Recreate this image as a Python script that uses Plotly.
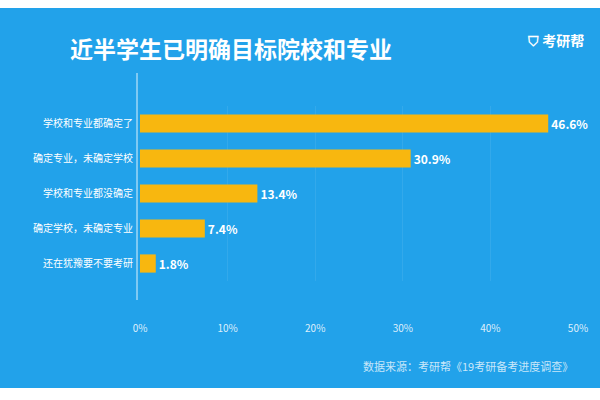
import plotly.graph_objects as go

categories = ["学校和专业都确定了", "确定专业，未确定学校", "学校和专业都没确定", "确定学校，未确定专业", "还在犹豫要不要考研"]
values = [46.6, 30.9, 13.4, 7.4, 1.8]
xticks = [0, 10, 20, 30, 40, 50]
xticklabels = ["0%", "10%", "20%", "30%", "40%", "50%"]

BLUE = "#22A2EA"
BAR = "#F8B70F"
FONT = "Noto Sans CJK SC"

fig = go.Figure(go.Bar(
    y=categories, x=values, orientation="h", marker=dict(color=BAR, line_width=0), width=0.52,
    text=[f"<b>{v}%</b>" for v in values], textposition="outside",
    textfont=dict(color="white", size=12, family=FONT), cliponaxis=False,
))
fig.update_layout(
    width=600, height=400, paper_bgcolor="white", plot_bgcolor=BLUE,
    margin=dict(l=140, r=22, t=106, b=119), showlegend=False,
    font=dict(family=FONT, color="white"),
    shapes=[
        dict(type="rect", xref="paper", yref="paper", x0=-0.4, x1=1.2,
             y0=-(388-281)/175, y1=1+(106-8)/175, fillcolor=BLUE, line_width=0, layer="below"),
        dict(type="line", xref="paper", yref="paper", x0=-3/438, x1=-3/438,
             y0=-(300-281)/175, y1=1+(106-73)/175, line=dict(color="rgba(255,255,255,0.85)", width=1)),
    ],
    annotations=[
        dict(text="<b>近半学生已明确目标院校和专业</b>", xref="paper", yref="paper",
             x=(68-140)/438, y=1+(106-48)/175, xanchor="left", yanchor="middle",
             showarrow=False, font=dict(size=23, color="white", family=FONT)),
        dict(text="<b>⛉ 考研帮</b>", xref="paper", yref="paper", x=1+(8)/438, y=1+(106-40)/175,
             xanchor="right", yanchor="middle", showarrow=False,
             font=dict(size=14, color="white", family=FONT)),
        dict(text="数据来源：考研帮《19考研备考进度调查》", xref="paper", yref="paper",
             x=(575-140)/438, y=-(366-281)/175, xanchor="right", yanchor="middle",
             showarrow=False, font=dict(size=11, color="rgba(255,255,255,0.75)", family=FONT)),
    ],
)
fig.update_xaxes(range=[0, 50], tickvals=xticks, ticktext=xticklabels, showgrid=True,
                 gridcolor="rgba(255,255,255,0.08)", zeroline=False, ticks="",
                 tickfont=dict(size=10, color="rgba(255,255,255,0.85)"), ticklabelstandoff=40)
fig.update_yaxes(autorange="reversed", showgrid=False, ticks="",
                 tickfont=dict(size=10, color="white"), ticklabelstandoff=6)
fig.write_html("out.html", post_script="document.body.style.margin='0';",
               config={"displayModeBar": False})
